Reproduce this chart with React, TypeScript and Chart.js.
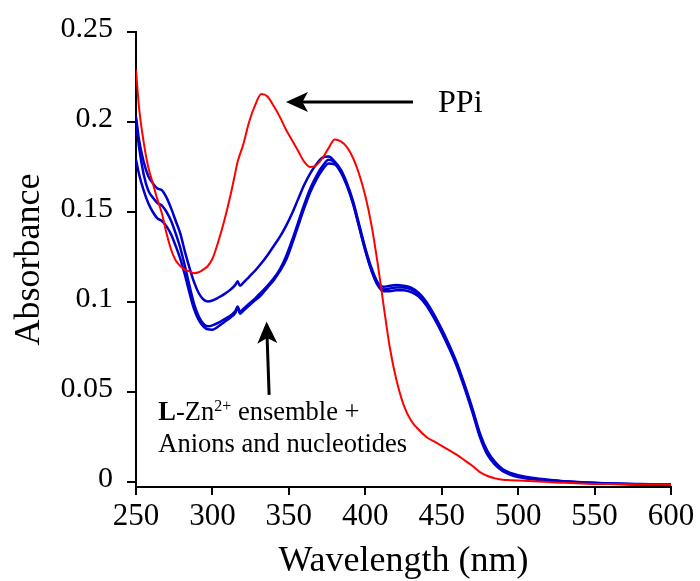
import React, { useEffect, useRef } from 'react';
import { Chart, registerables } from 'chart.js';

Chart.register(...registerables);

// ---- Data (wavelength in nm, absorbance) ----
const wavelengths = [
  250, 252, 255, 258, 261, 264, 267, 270, 273, 276, 279, 282, 285, 288, 291, 294, 297, 300,
  304, 308, 312, 315, 316.5, 318, 320, 324, 328, 332, 336, 340, 344, 348, 352, 356, 360, 364,
  368, 372, 376, 380, 384, 388, 392, 396, 400, 404, 408, 412, 416, 420, 425, 430, 435, 440,
  445, 450, 455, 460, 465, 470, 475, 480, 485, 490, 495, 500, 510, 520, 530, 545, 560, 580, 600,
];

// L-Zn2+ + PPi (red)
const ppiAbs = [
  0.229, 0.208, 0.189, 0.175, 0.166, 0.157, 0.149, 0.138, 0.129, 0.123, 0.120, 0.118, 0.117, 0.116, 0.1165, 0.118, 0.120, 0.124,
  0.134, 0.146, 0.160, 0.172, 0.178, 0.182, 0.187, 0.200, 0.2095, 0.2155, 0.2142, 0.209, 0.203, 0.196, 0.190, 0.184, 0.178, 0.175,
  0.176, 0.180, 0.1855, 0.1903, 0.1892, 0.186, 0.180, 0.171, 0.159, 0.143, 0.122, 0.098, 0.075, 0.058, 0.043, 0.034, 0.029, 0.025,
  0.0225, 0.020, 0.0175, 0.015, 0.012, 0.009, 0.0055, 0.0033, 0.002, 0.0012, 0.001, 0.0008, 0.0004, 0.0, -0.0005, -0.001, -0.0012, -0.0014, -0.0015,
];

// L-Zn2+ + other anions / nucleotides (blue)
const ensembleA = [
  0.203, 0.190, 0.178, 0.170, 0.166, 0.163, 0.162, 0.158, 0.152, 0.145, 0.138, 0.128, 0.119, 0.111, 0.105, 0.1015, 0.1002, 0.1008,
  0.1025, 0.1045, 0.107, 0.1095, 0.1115, 0.109, 0.1105, 0.114, 0.1175, 0.1215, 0.126, 0.131, 0.136, 0.142, 0.149, 0.157, 0.165, 0.1715,
  0.1765, 0.1802, 0.1808, 0.178, 0.1735, 0.166, 0.156, 0.143, 0.130, 0.119, 0.111, 0.1085, 0.109, 0.1095, 0.109, 0.108, 0.105, 0.100,
  0.093, 0.085, 0.076, 0.066, 0.054, 0.041, 0.027, 0.017, 0.011, 0.007, 0.005, 0.0038, 0.0022, 0.0012, 0.0004, -0.0003, -0.0008, -0.0012, -0.0015,
];

const ensembleB = [
  0.201, 0.186, 0.171, 0.162, 0.158, 0.155, 0.1535, 0.150, 0.145, 0.138, 0.130, 0.120, 0.109, 0.099, 0.092, 0.088, 0.0865, 0.087,
  0.0885, 0.0905, 0.0925, 0.095, 0.0975, 0.0945, 0.096, 0.099, 0.102, 0.1055, 0.109, 0.113, 0.118, 0.125, 0.134, 0.144, 0.154, 0.163,
  0.170, 0.1755, 0.179, 0.1775, 0.1725, 0.165, 0.155, 0.142, 0.129, 0.118, 0.110, 0.107, 0.1075, 0.108, 0.108, 0.107, 0.104, 0.099,
  0.092, 0.084, 0.075, 0.065, 0.053, 0.040, 0.026, 0.016, 0.010, 0.0065, 0.0045, 0.0032, 0.0018, 0.001, 0.0003, -0.0004, -0.0009, -0.0013, -0.0016,
];

const ensembleC = [
  0.179, 0.171, 0.162, 0.155, 0.150, 0.1465, 0.145, 0.142, 0.1375, 0.131, 0.124, 0.115, 0.105, 0.096, 0.090, 0.0865, 0.0848, 0.0846,
  0.0865, 0.089, 0.0915, 0.094, 0.097, 0.0935, 0.095, 0.098, 0.101, 0.104, 0.108, 0.112, 0.117, 0.123, 0.132, 0.142, 0.152, 0.161,
  0.168, 0.1735, 0.177, 0.1765, 0.172, 0.1645, 0.1545, 0.1415, 0.1285, 0.1175, 0.1095, 0.106, 0.106, 0.1065, 0.1065, 0.1055, 0.103, 0.098,
  0.091, 0.083, 0.074, 0.064, 0.052, 0.039, 0.025, 0.015, 0.0095, 0.006, 0.004, 0.0028, 0.0015, 0.0008, 0.0002, -0.0005, -0.001, -0.0014, -0.0016,
];

const xTicks = [250, 300, 350, 400, 450, 500, 550, 600];
const yTicks = [0, 0.05, 0.1, 0.15, 0.2, 0.25];
const xTitle = 'Wavelength (nm)';
const yTitle = 'Absorbance';

// Annotation anchors, in data units (nm, absorbance)
const ppiArrow = { fromNm: 431.2, toNm: 348.1, abs: 0.2111 };
const ppiLabel = { nm: 447.6, abs: 0.2053, text: 'PPi' };
const ensembleArrow = { fromNm: 337.1, fromAbs: 0.0484, toNm: 335.4, toAbs: 0.0892 };
const ensembleLabel = { nm: 264.6, abs1: 0.0345, abs2: 0.0167 };

const FAMILY = '"Liberation Serif", "Times New Roman", Times, serif';

function drawArrow(ctx: CanvasRenderingContext2D, fx: number, fy: number, tx: number, ty: number) {
  const headLen = 22;
  const halfW = 10;
  const ang = Math.atan2(ty - fy, tx - fx);
  const c = Math.cos(ang);
  const s = Math.sin(ang);
  ctx.lineWidth = 3;
  ctx.lineCap = 'butt';
  ctx.beginPath();
  ctx.moveTo(fx, fy);
  ctx.lineTo(tx - c * headLen * 0.7, ty - s * headLen * 0.7);
  ctx.stroke();
  const bx = tx - c * headLen;
  const by = ty - s * headLen;
  const nx = -s;
  const ny = c;
  ctx.beginPath();
  ctx.moveTo(tx, ty);
  ctx.lineTo(bx + nx * halfW, by + ny * halfW);
  ctx.lineTo(tx - c * headLen * 0.75, ty - s * headLen * 0.75);
  ctx.lineTo(bx - nx * halfW, by - ny * halfW);
  ctx.closePath();
  ctx.fill();
}

const annotationPlugin = {
  id: 'uvAnnotations',
  afterDatasetsDraw(chart: any) {
    const { ctx, scales } = chart;
    const x = scales.x;
    const y = scales.y;
    ctx.save();
    ctx.fillStyle = '#000';
    ctx.strokeStyle = '#000';

    // PPi arrow + label
    const py = y.getPixelForValue(ppiArrow.abs);
    drawArrow(ctx, x.getPixelForValue(ppiArrow.fromNm), py, x.getPixelForValue(ppiArrow.toNm), py);
    ctx.font = `32px ${FAMILY}`;
    ctx.textBaseline = 'alphabetic';
    ctx.textAlign = 'left';
    ctx.fillText(ppiLabel.text, x.getPixelForValue(ppiLabel.nm), y.getPixelForValue(ppiLabel.abs));

    // Ensemble arrow + label
    drawArrow(
      ctx,
      x.getPixelForValue(ensembleArrow.fromNm),
      y.getPixelForValue(ensembleArrow.fromAbs),
      x.getPixelForValue(ensembleArrow.toNm),
      y.getPixelForValue(ensembleArrow.toAbs)
    );
    let tx = x.getPixelForValue(ensembleLabel.nm);
    const b1 = y.getPixelForValue(ensembleLabel.abs1);
    const b2 = y.getPixelForValue(ensembleLabel.abs2);
    const size = 26.5;
    ctx.font = `bold ${size}px ${FAMILY}`;
    ctx.fillText('L', tx, b1);
    tx += ctx.measureText('L').width;
    ctx.font = `${size}px ${FAMILY}`;
    ctx.fillText('-Zn', tx, b1);
    tx += ctx.measureText('-Zn').width;
    ctx.font = `16px ${FAMILY}`;
    ctx.fillText('2+', tx, b1 - 9);
    tx += ctx.measureText('2+').width;
    ctx.font = `${size}px ${FAMILY}`;
    ctx.fillText(' ensemble +', tx, b1);
    ctx.fillText('Anions and nucleotides', x.getPixelForValue(ensembleLabel.nm), b2);
    ctx.restore();
  },
};

const toPoints = (vals: number[]) => wavelengths.map((w, i) => ({ x: w, y: vals[i] }));

export default function App() {
  const ref = useRef<HTMLCanvasElement>(null);

  useEffect(() => {
    const canvas = ref.current;
    if (!canvas) return;
    const blue = '#0000cd';
    const lineBase = { pointRadius: 0, fill: false, cubicInterpolationMode: 'monotone' as const };
    const chart = new Chart(canvas, {
      type: 'line',
      data: {
        datasets: [
          { label: 'PPi', data: toPoints(ppiAbs), borderColor: '#ff0000', borderWidth: 2, ...lineBase },
          { label: 'Ensemble A', data: toPoints(ensembleA), borderColor: blue, borderWidth: 2.5, ...lineBase },
          { label: 'Ensemble B', data: toPoints(ensembleB), borderColor: blue, borderWidth: 2.5, ...lineBase },
          { label: 'Ensemble C', data: toPoints(ensembleC), borderColor: blue, borderWidth: 2.5, ...lineBase },
        ],
      },
      options: {
        responsive: false,
        animation: false,
        layout: { padding: { top: 32, right: 29, left: 0, bottom: 0 } },
        plugins: { legend: { display: false }, tooltip: { enabled: false } },
        scales: {
          x: {
            type: 'linear',
            min: 250,
            max: 600,
            afterBuildTicks: (ax: any) => {
              ax.ticks = xTicks.map((v) => ({ value: v }));
            },
            afterFit: (s: any) => {
              s.height = 94;
            },
            border: { display: true, color: '#000', width: 2 },
            grid: { drawOnChartArea: false, drawTicks: true, tickLength: 8, color: '#000', lineWidth: 2 },
            ticks: {
              color: '#000',
              font: { family: FAMILY, size: 31, lineHeight: 1.2 },
              padding: 3,
              maxRotation: 0,
              autoSkip: false,
            },
            title: {
              display: true,
              text: xTitle,
              color: '#000',
              font: { family: FAMILY, size: 36, lineHeight: 1.2 },
              padding: { top: 0, bottom: -2 },
            },
          },
          y: {
            type: 'linear',
            min: -0.0028,
            max: 0.25,
            afterBuildTicks: (ax: any) => {
              ax.ticks = yTicks.map((v) => ({ value: v }));
            },
            afterFit: (s: any) => {
              s.width = 136;
            },
            border: { display: true, color: '#000', width: 2 },
            grid: { drawOnChartArea: false, drawTicks: true, tickLength: 9, color: '#000', lineWidth: 2 },
            ticks: {
              color: '#000',
              font: { family: FAMILY, size: 30, lineHeight: 1.2 },
              padding: 14,
              labelOffset: -3,
              callback: (v: any) => String(Number(Number(v).toFixed(2))),
            },
            title: {
              display: true,
              text: yTitle,
              color: '#000',
              font: { family: FAMILY, size: 36, lineHeight: 1.2 },
              padding: { top: 8, bottom: 0 },
            },
          },
        },
      },
      plugins: [annotationPlugin],
    } as any);
    return () => chart.destroy();
  }, []);

  return (
    <div style={{ position: 'absolute', left: 0, top: 0, width: 700, height: 581, background: '#fff' }}>
      <canvas ref={ref} width={700} height={581} style={{ display: 'block' }} />
    </div>
  );
}
